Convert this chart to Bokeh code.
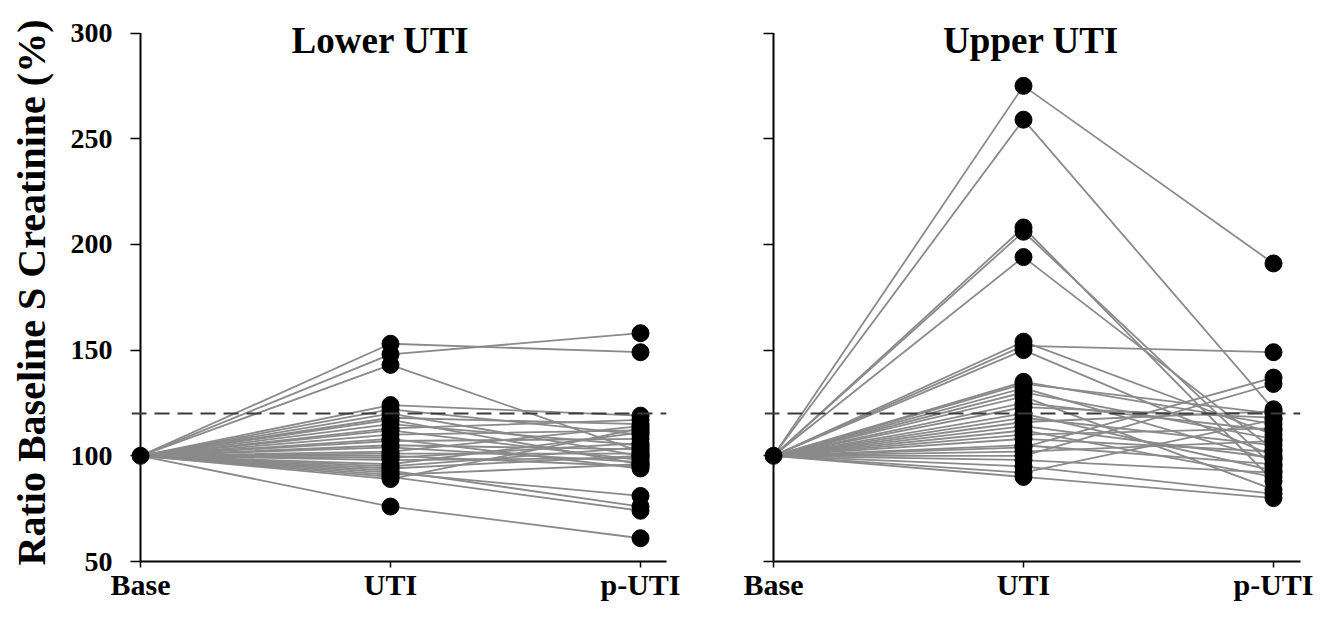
from bokeh.plotting import figure
from bokeh.layouts import row
from bokeh.models import Range1d, FixedTicker, Span, Label
from bokeh.embed import file_html
from bokeh.resources import INLINE

# ---- data ----
categories = ["Base", "UTI", "p-UTI"]
baseline_value = 100
threshold = 120
y_ticks = [50, 100, 150, 200, 250, 300]

lower_uti = [153, 148, 143, 124, 122, 120, 118, 117, 115, 113, 112, 110, 108, 107, 105,
             104, 102, 101, 100, 99, 98, 96, 95, 94, 93, 92, 91, 90, 89, 76]
lower_puti = [149, 158, 102, 119, 110, 100, 115, 96, 105, 117, 98, 112, 94, 108, 103,
              97, 114, 101, 95, 106, 99, 111, 104, 100, 76, 81, 96, 74, 113, 61]

upper_uti = [275, 259, 208, 206, 194, 154, 152, 150, 135, 134, 132, 130, 128, 125, 123,
             120, 118, 116, 114, 112, 110, 108, 105, 104, 102, 100, 98, 95, 92, 90]
upper_puti = [191, 122, 88, 95, 103, 110, 149, 100, 115, 120, 98, 108, 84, 112, 118,
              93, 105, 121, 99, 90, 113, 102, 96, 137, 107, 134, 92, 82, 117, 80]

FONT = "Liberation Serif"


def make_panel(title, title_x, uti, puti, width, border_left, border_right, x_end, show_ylabels):
    p = figure(width=width, height=620,
               x_range=Range1d(-0.036, x_end), y_range=Range1d(50, 304.5),
               output_backend="svg", toolbar_location=None,
               min_border_left=border_left, min_border_right=border_right,
               min_border_top=23, min_border_bottom=59)
    p.outline_line_color = None
    p.xgrid.visible = False
    p.ygrid.visible = False

    xpos = list(range(len(categories)))

    # y axis line at Base position
    p.segment(x0=[xpos[0]], y0=[y_ticks[0]], x1=[xpos[0]], y1=[y_ticks[-1]],
              line_color="black", line_width=2)

    xs = [xpos for _ in uti]
    ys = [[baseline_value, u, q] for u, q in zip(uti, puti)]
    p.multi_line(xs, ys, line_color="#8a8a8a", line_width=1.8)

    p.add_layout(Span(location=threshold, dimension="width", line_color="#3a3a3a",
                      line_width=2, line_dash="15 8"))

    p.scatter([xpos[0]], [baseline_value], size=17, color="black")
    p.scatter([xpos[1]] * len(uti), uti, size=17, color="black")
    p.scatter([xpos[2]] * len(puti), puti, size=17, color="black")

    # x axis
    xa = p.xaxis[0]
    xa.ticker = FixedTicker(ticks=xpos)
    xa.bounds = (0, x_end)
    xa.major_label_overrides = {i: c for i, c in enumerate(categories)}
    xa.minor_tick_line_color = None
    xa.major_tick_out = 6
    xa.major_tick_in = 0
    xa.axis_line_width = 2
    xa.axis_line_color = "black"
    xa.major_tick_line_color = "black"
    xa.major_tick_line_width = 1.5
    xa.major_label_text_font = FONT
    xa.major_label_text_font_style = "bold"
    xa.major_label_text_font_size = "30px"
    xa.major_label_text_color = "black"
    xa.major_label_standoff = 0

    # y axis (line drawn separately at Base)
    ya = p.yaxis[0]
    ya.ticker = FixedTicker(ticks=y_ticks)
    ya.bounds = (y_ticks[0], y_ticks[-1])
    ya.axis_line_color = None
    ya.minor_tick_line_color = None
    ya.major_tick_out = 1
    ya.major_tick_in = 9
    ya.major_tick_line_color = "black"
    ya.major_tick_line_width = 1.5
    ya.major_label_text_font = FONT
    ya.major_label_text_font_style = "bold"
    ya.major_label_text_font_size = "28px"
    ya.major_label_text_color = "black"
    ya.major_label_standoff = 18
    if show_ylabels:
        ya.axis_label = "Ratio Baseline S Creatinine (%)"
        ya.axis_label_text_font = FONT
        ya.axis_label_text_font_style = "bold"
        ya.axis_label_text_font_size = "40px"
        ya.axis_label_text_color = "black"
        ya.axis_label_standoff = 14
    else:
        ya.major_label_overrides = {t: "" for t in y_ticks}

    p.add_layout(Label(x=title_x, y=296.5, text=title, text_align="center",
                       text_baseline="middle", text_font=FONT, text_font_style="bold",
                       text_font_size="37px", text_color="black"))
    return p


p1 = make_panel("Lower UTI", 0.96, lower_uti, lower_puti, 706, 131, 40, 2.104, True)
p2 = make_panel("Upper UTI", 1.03, upper_uti, upper_puti, 616, 58, 22, 2.108, False)

layout = row(p1, p2)
open("out.html", "w").write(file_html(layout, INLINE))
